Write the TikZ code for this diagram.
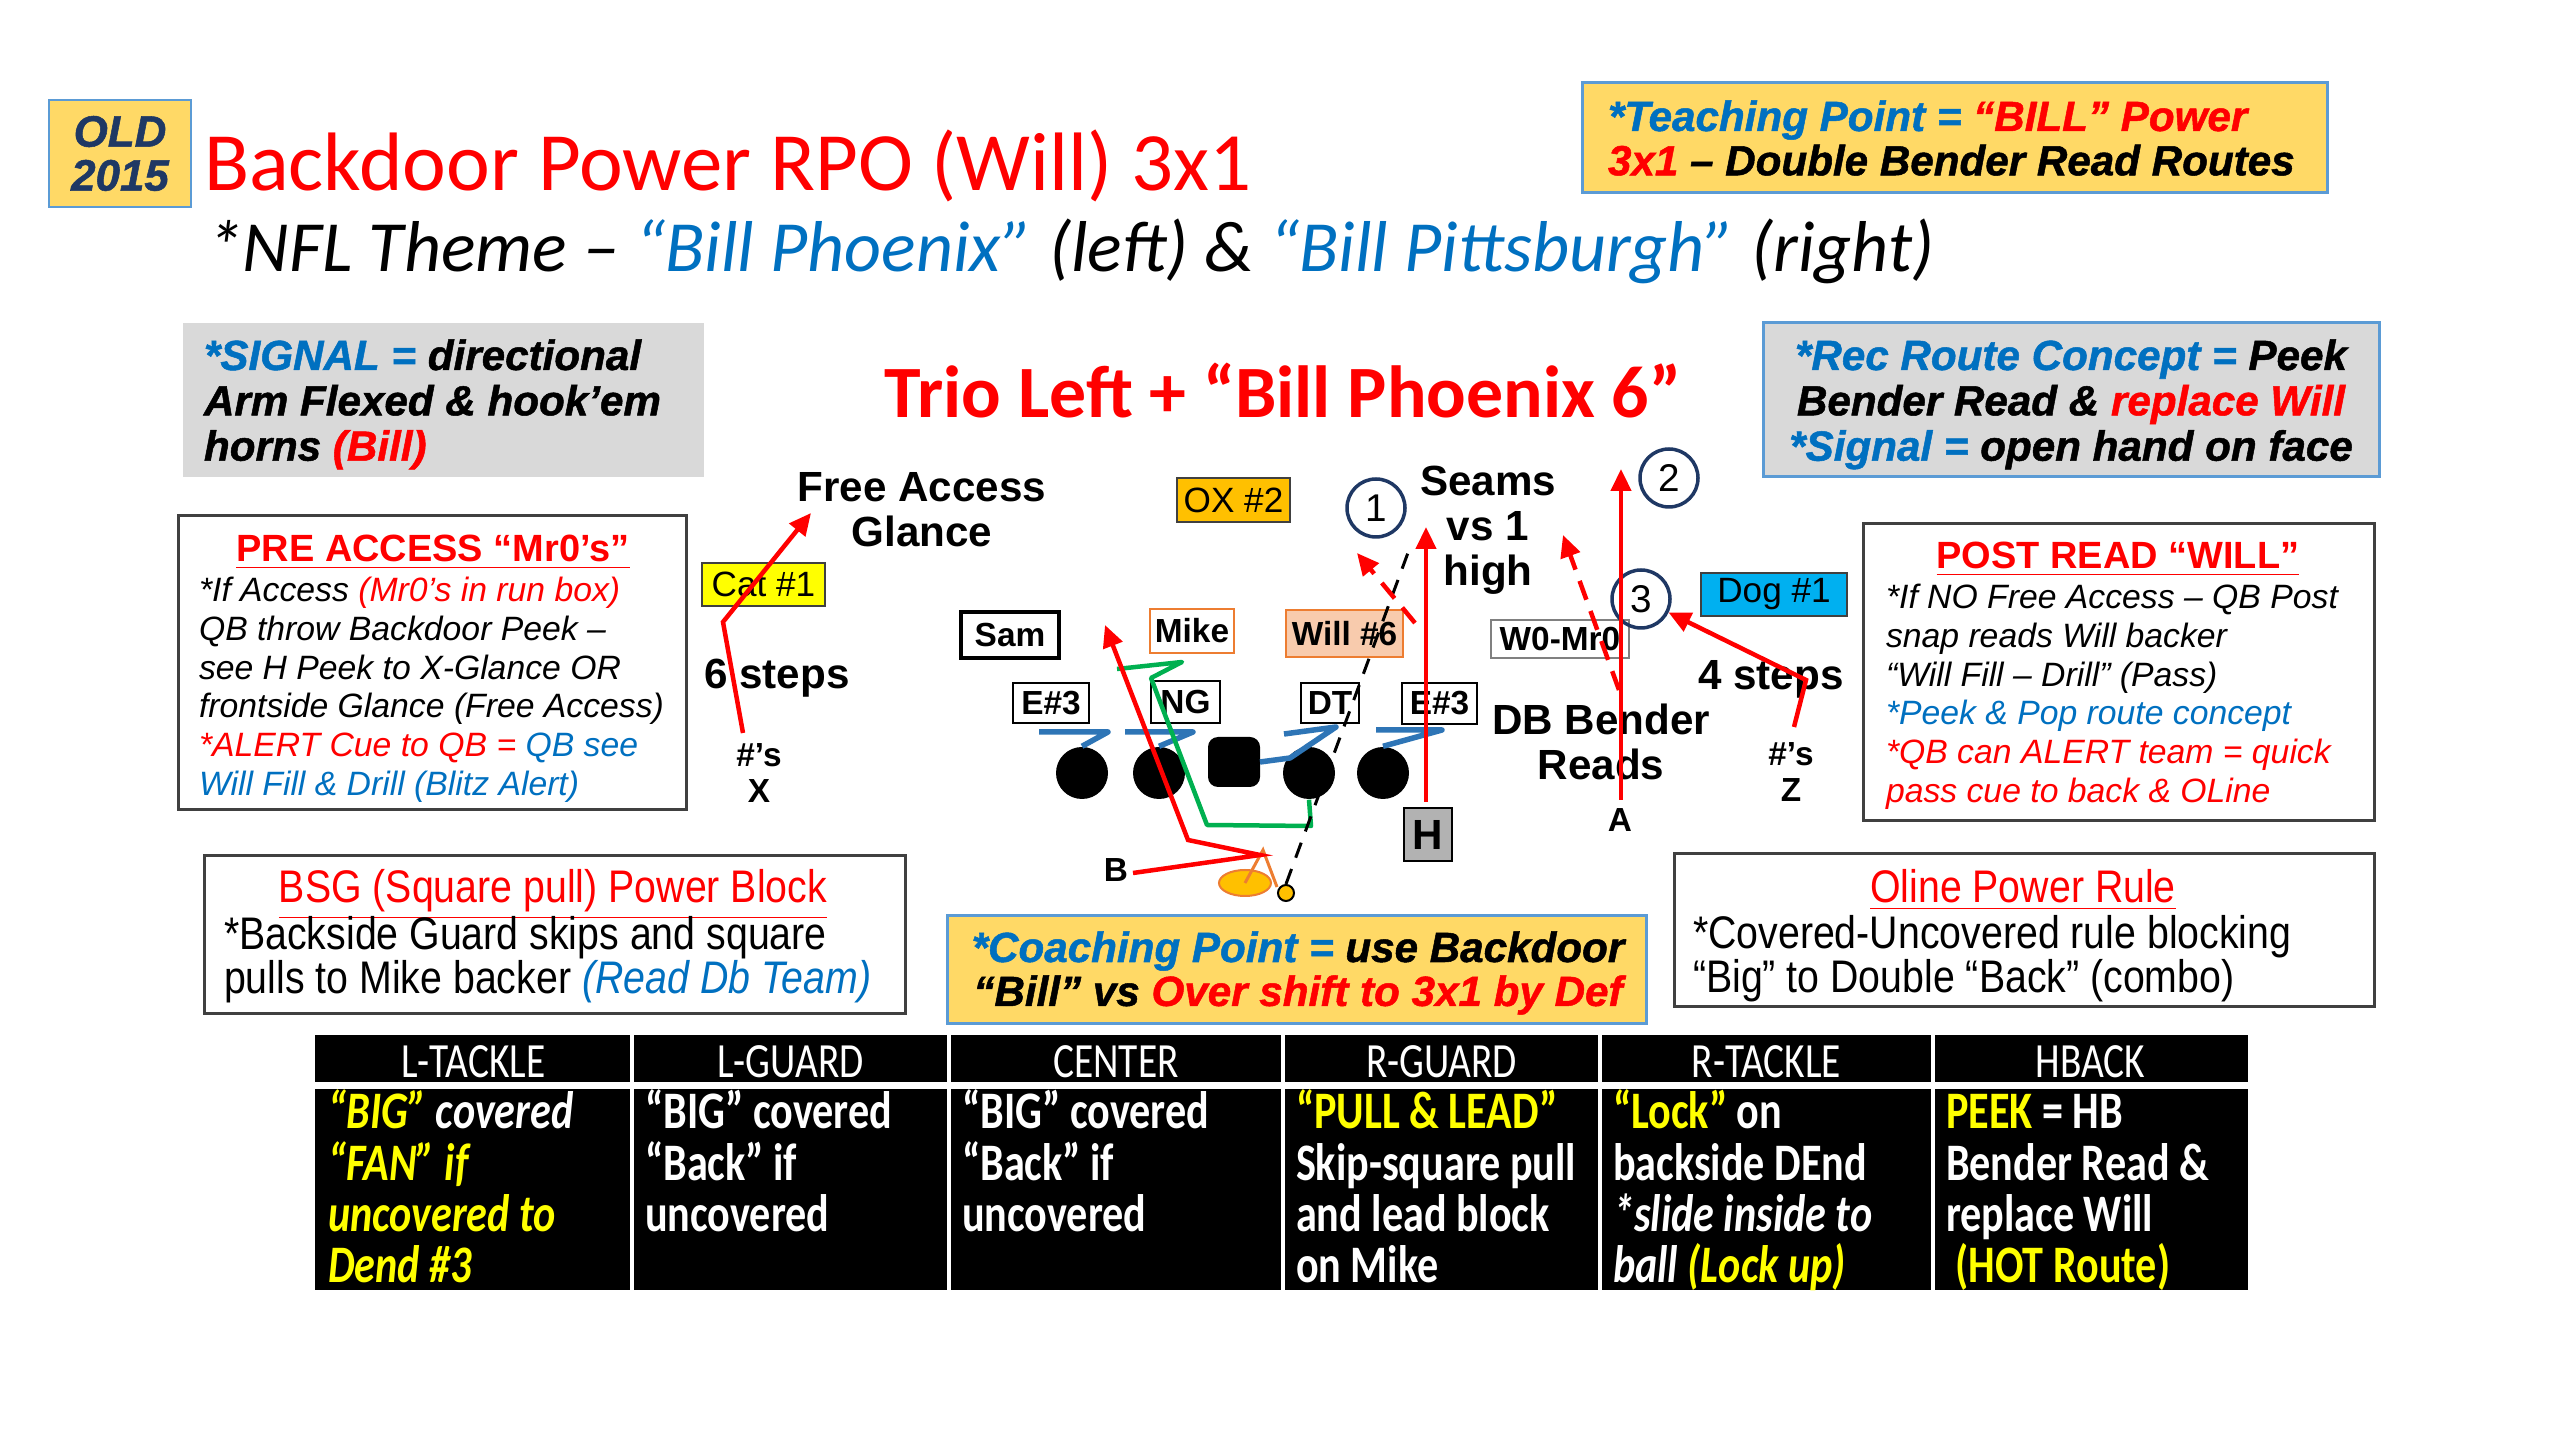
\documentclass[tikz,border=0pt]{standalone}
\usepackage{fontspec}
\setmainfont{Liberation Sans}
\newfontfamily\calf{Carlito}
\newfontfamily\heavyf{Liberation Sans}[FakeBold=1.2]
\newfontfamily\narrowf{Liberation Sans}[FakeStretch=0.86]
\newfontfamily\tabf{Carlito}[FakeStretch=0.80]
\usetikzlibrary{arrows.meta,shapes.geometric}
\definecolor{rd}{HTML}{FF0000}
\definecolor{bl}{HTML}{0070C0}
\definecolor{gold}{HTML}{FFD966}
\definecolor{boxbl}{HTML}{5B9BD5}
\definecolor{gry}{HTML}{D9D9D9}
\definecolor{navyc}{HTML}{1F3864}
\definecolor{oxc}{HTML}{FFC000}
\definecolor{dogc}{HTML}{00B0F0}
\definecolor{orng}{HTML}{ED7D31}
\definecolor{willc}{HTML}{F8CBAD}
\definecolor{grn}{HTML}{00B050}
\definecolor{blkc}{HTML}{2E75B6}
\definecolor{yl}{HTML}{FFFF00}
\definecolor{darkg}{HTML}{404040}
\newcommand\fsz[2]{\fontsize{#1}{#2}\selectfont}
\newcommand\hvy{\heavyf\fsz{12}{12.6}\bfseries\itshape}
\tikzset{
  box/.style={rectangle, inner sep=0pt, outer sep=0pt},
  txt/.style={inner sep=0pt, outer sep=0pt},
  panel/.style={box, draw=darkg, line width=0.3mm, fill=white},
  dbox/.style={box, draw=black, line width=0.25mm, fill=white, font=\fsz{9.5}{11}\bfseries},
  lbl/.style={txt, font=\fsz{12}{12.8}\bfseries, align=center},
  small/.style={txt, font=\fsz{9.5}{10.3}\bfseries, align=center},
  route/.style={draw=rd, line width=0.45mm, -{Triangle[length=2.2mm,width=2mm]}},
  droute/.style={route, dash pattern=on 2mm off 1.2mm},
  blockmk/.style={draw=blkc, line width=0.55mm, line join=round},
  lineman/.style={circle, fill=black, minimum size=5.2mm, inner sep=0pt},
  numc/.style={circle, draw=navyc, line width=0.35mm, minimum size=5.8mm, inner sep=0pt, font=\fsz{11}{12}},
  hdr/.style={txt, anchor=base, text=white, font=\tabf\fsz{14}{15}},
  cell/.style={txt, anchor=base west, text=white},
}
\begin{document}
\begin{tikzpicture}[x=0.1mm,y=-0.1mm]
\useasboundingbox (0,0) rectangle (2560,1440);
\fill[white] (0,0) rectangle (2560,1440);

% ---------- header ----------
\node[box, draw=boxbl, fill=gold, line width=0.2mm, minimum width=14.2mm, minimum height=10.7mm] (oldbox) at (120,153.5) {};
\node[txt, font=\heavyf\fsz{12.5}{12.5}\bfseries\itshape, text=navyc, align=center] (oldtxt) at (120,153.5) {OLD\\2015};
\node[txt, anchor=base west, text=rd, font=\calf\fsz{23.6}{28}] (title) at (204,191) {Backdoor Power RPO (Will) 3x1};
\node[txt, anchor=base west, font=\calf\itshape\fsz{20.5}{24}] (subtitle) at (207,272) {*NFL Theme – \textcolor{bl}{“Bill Phoenix”} (left) \& \textcolor{bl}{“Bill Pittsburgh”} (right)};

\node[box, draw=boxbl, fill=gold, line width=0.3mm, minimum width=74.5mm, minimum height=11mm] (teach) at (1954.5,138) {};
\node[txt, anchor=base west] (teachtxt) at (1608,131) {\parbox[t]{90mm}{\hvy \textcolor{bl}{*Teaching Point =} \textcolor{rd}{“BILL” Power}\\\textcolor{rd}{3x1} – Double Bender Read Routes}};

% ---------- second row ----------
\node[box, fill=gry, minimum width=52.1mm, minimum height=15.4mm] (signal) at (443.5,400) {};
\node[txt, anchor=base west] (signaltxt) at (204,370) {\parbox[t]{70mm}{\hvy\fsz{12}{12.9}\textcolor{bl}{*SIGNAL =} directional\\Arm Flexed \& hook’em\\horns \textcolor{rd}{(Bill)}}};

\node[txt, anchor=base, text=rd, font=\calf\bfseries\fsz{21}{24}] (trio) at (1283,418) {Trio Left + “Bill Phoenix 6”};

\node[box, draw=boxbl, fill=gry, line width=0.3mm, minimum width=61.6mm, minimum height=15.4mm] (rec) at (2071,400) {};
\node[txt, anchor=base] (rectxt) at (2071,370) {\parbox[t]{80mm}{\centering\hvy\fsz{12}{12.9}\textcolor{bl}{*Rec Route Concept =} Peek\\Bender Read \& \textcolor{rd}{replace Will}\\\textcolor{bl}{*Signal =} open hand on face}};

% ---------- side panels ----------
\node[panel, minimum width=50.8mm, minimum height=29.4mm] (pre) at (432,663) {};
\node[txt, anchor=base, text=rd, font=\fsz{10.8}{12}\bfseries] (pretitle) at (433,562) {\underline{PRE ACCESS “Mr0’s”}};
\node[txt, anchor=base west] (pretxt) at (199,602) {\parbox[t]{70mm}{\fsz{9.6}{11}\itshape *If Access \textcolor{rd}{(Mr0’s in run box)}\\QB throw Backdoor Peek –\\see H Peek to X-Glance OR\\frontside Glance (Free Access)\\\textcolor{rd}{*ALERT Cue to QB =} \textcolor{bl}{QB see}\\\textcolor{bl}{Will Fill \& Drill (Blitz Alert)}}};

\node[panel, minimum width=51.1mm, minimum height=29.7mm] (post) at (2118.5,672.5) {};
\node[txt, anchor=base, text=rd, font=\fsz{10.8}{12}\bfseries] (posttitle) at (2118,569) {\underline{POST READ “WILL”}};
\node[txt, anchor=base west] (posttxt) at (1886,609) {\parbox[t]{70mm}{\fsz{9.6}{11}\itshape *If NO Free Access – QB Post\\snap reads Will backer\\“Will Fill – Drill” (Pass)\\\textcolor{bl}{*Peek \& Pop route concept}\\\textcolor{rd}{*QB can ALERT team = quick}\\\textcolor{rd}{pass cue to back \& OLine}}};

% ---------- bottom panels ----------
\node[panel, minimum width=70.1mm, minimum height=15.8mm] (bsg) at (554.5,935) {};
\node[txt, anchor=base, text=rd, font=\narrowf\fsz{13}{14}] (bsgtitle) at (553,903) {\underline{BSG (Square pull) Power Block}};
\node[txt, anchor=base west] (bsgtxt) at (224,950) {\parbox[t]{90mm}{\narrowf\fsz{13}{12.3}*Backside Guard skips and square\\pulls to Mike backer \textcolor{bl}{\itshape (Read Db Team)}}};

\node[box, draw=boxbl, fill=gold, line width=0.3mm, minimum width=69.9mm, minimum height=10.8mm] (coach) at (1296.5,970) {};
\node[txt, anchor=base] (coachtxt) at (1298,962) {\parbox[t]{90mm}{\centering\hvy\fsz{12}{12.5}\textcolor{bl}{*Coaching Point =} use Backdoor\\“Bill” vs \textcolor{rd}{Over shift to 3x1 by Def}}};

\node[panel, minimum width=70mm, minimum height=15.3mm] (oline) at (2024,930.5) {};
\node[txt, anchor=base, text=rd, font=\narrowf\fsz{13}{14}] (olinetitle) at (2023,903) {\underline{Oline Power Rule}};
\node[txt, anchor=base west] (olinetxt) at (1693,949) {\parbox[t]{90mm}{\narrowf\fsz{13}{12.3}*Covered-Uncovered rule blocking\\“Big” to Double “Back” (combo)}};

% ---------- table ----------
\fill[black] (315,1035) rectangle (2248,1290);
\foreach \cx in {632,949,1283,1600,1933} {\draw[white, line width=0.35mm] (\cx,1035) -- (\cx,1290);}
\draw[white, line width=0.7mm] (315,1086) -- (2248,1086);
\node[hdr] (hlt) at (473.5,1077) {L-TACKLE};
\node[hdr] (hlg) at (790.5,1077) {L-GUARD};
\node[hdr] (hc) at (1116,1077) {CENTER};
\node[hdr] (hrg) at (1441.5,1077) {R-GUARD};
\node[hdr] (hrt) at (1766.5,1077) {R-TACKLE};
\node[hdr] (hhb) at (2090.5,1077) {HBACK};
\node[cell] (blt) at (328,1129) {\parbox[t]{40mm}{\tabf\bfseries\itshape\fsz{15}{14.6}\textcolor{yl}{“BIG”} covered\\\textcolor{yl}{“FAN” if}\\\textcolor{yl}{uncovered to}\\\textcolor{yl}{Dend \#3}}};
\node[cell] (blg) at (645,1129) {\parbox[t]{40mm}{\tabf\bfseries\fsz{15}{14.6}“BIG” covered\\“Back” if\\uncovered}};
\node[cell] (bc) at (962,1129) {\parbox[t]{40mm}{\tabf\bfseries\fsz{15}{14.6}“BIG” covered\\“Back” if\\uncovered}};
\node[cell] (brg) at (1296,1129) {\parbox[t]{40mm}{\tabf\bfseries\fsz{15}{14.6}\textcolor{yl}{“PULL \& LEAD”}\\Skip-square pull\\and lead block\\on Mike}};
\node[cell] (brt) at (1613,1129) {\parbox[t]{40mm}{\tabf\bfseries\fsz{15}{14.6}\textcolor{yl}{“Lock”} on\\backside DEnd\\\itshape *slide inside to\\ball \textcolor{yl}{(Lock up)}}};
\node[cell] (bhb) at (1946,1129) {\parbox[t]{40mm}{\tabf\bfseries\fsz{15}{14.6}\textcolor{yl}{PEEK} = HB\\Bender Read \&\\replace Will\\\textcolor{yl}{~(HOT Route)}}};

% ---------- diagram: labels ----------
\node[lbl] (freeacc) at (922,510) {Free Access\\Glance};
\node[lbl] (seams) at (1488,530) {Seams\\vs 1\\high};
\node[lbl] (sixsteps) at (777,678) {6 steps};
\node[lbl] (fourstep) at (1771,679) {4 steps};
\node[lbl] (dbbend) at (1601,742) {DB Bender\\Reads};
\node[small] (xlab) at (759,773) {\#’s\\X};
\node[small] (zlab) at (1791,772) {\#’s\\Z};
\node[small] (alab) at (1620,820) {A};
\node[small] (blab) at (1116,870) {B};

\node[dbox, fill=yl, draw=darkg, minimum width=12.3mm, minimum height=4.3mm, font=\fsz{10}{11}] (cat) at (763.5,584.5) {Cat \#1};
\node[dbox, fill=oxc, draw=darkg, minimum width=11.3mm, minimum height=4.4mm, font=\fsz{10}{11}] (ox) at (1233.5,500) {OX \#2};
\node[dbox, line width=0.45mm, minimum width=9.8mm, minimum height=4.6mm] (sam) at (1010,635) {Sam};
\node[dbox, draw=orng, minimum width=8.4mm, minimum height=4.4mm] (mike) at (1192,631) {Mike};
\node[dbox, draw=orng, fill=willc, minimum width=11.7mm, minimum height=4.7mm] (will) at (1344.5,633.5) {Will \#6};
\node[dbox, draw=gray, minimum width=13.8mm, minimum height=3.8mm] (wzero) at (1560,639) {W0-Mr0};
\node[dbox, minimum width=7.6mm, minimum height=4mm] (eleft) at (1051,703) {E\#3};
\node[dbox, minimum width=6.9mm, minimum height=4.2mm] (ng) at (1185.5,702) {NG};
\node[dbox, minimum width=5.8mm, minimum height=4mm] (dt) at (1330,703) {DT};
\node[dbox, minimum width=7.5mm, minimum height=4.1mm] (eright) at (1439.5,703.5) {E\#3};
\node[dbox, fill=gray!60, minimum width=4.8mm, minimum height=5.3mm, font=\fsz{12}{13}\bfseries] (hb) at (1428,834.5) {H};
\node[dbox, fill=dogc, draw=darkg, minimum width=14.6mm, minimum height=4.3mm, font=\fsz{10}{11}] (dog) at (1774,594.5) {Dog \#1};

\node[numc] (c1) at (1376,508) {1};
\node[numc] (c2) at (1669,478) {2};
\node[numc] (c3) at (1641,599) {3};

% offensive line
\node[lineman] (lt) at (1082,773) {};
\node[lineman] (lg) at (1159,773) {};
\node[box, fill=black, rounded corners=1mm, minimum width=5.2mm, minimum height=5mm] (ctr) at (1234,762) {};
\node[lineman] (rg) at (1309,773) {};
\node[lineman] (rt) at (1383,773) {};
\node[ellipse, fill=oxc, draw=orng, line width=0.2mm, minimum width=5.2mm, minimum height=2.6mm, inner sep=0pt] (qb) at (1245,883) {};
\node[circle, fill=oxc, draw=black, line width=0.2mm, minimum size=1.6mm, inner sep=0pt] (ball) at (1286,893) {};

% blocking marks
\draw[blockmk] (1039,732) -- (1108,732) -- (lt.north);
\draw[blockmk] (1125,732) -- (1193,732) -- (lg.north);
\draw[blockmk] (ctr.east) -- (1290,758) -- (1336,727) -- (1284,734);
\draw[blockmk] (1376,730) -- (1442,730) -- (rt.north);

% green pull
\draw[grn, line width=0.45mm, line join=round] (rg.south) -- (1311,826) -- (1207,825) -- (1151,678) -- (1182,662) -- (1117,669);

% QB markings
\draw[orng, line width=0.3mm] (qb.center) -- (1263,850) -- (1277,887);
\coordinate (dashtop) at (1409,550);
\draw[black, line width=0.3mm, dash pattern=on 1.6mm off 1.2mm] (ball.north) -- (dashtop);

% routes
\coordinate (xs) at (743,733);
\coordinate (xe) at (811,513);
\draw[route] (xs) -- (723,622) -- (xe);
\coordinate (bs) at (1133,873);
\coordinate (be) at (1105,625);
\draw[route, line join=miter] (bs) -- (1260,855) -- (1188,840) -- (be);
\coordinate (he) at (1426,527);
\draw[route] (1426,802) -- (he);
\coordinate (wd) at (1357,553);
\draw[droute] (1415,623) -- (wd);
\coordinate (as) at (1621,800);
\coordinate (ae) at (1621,469);
\draw[route] (as) -- (ae);
\coordinate (wzd) at (1563,535);
\draw[droute] (1619,690) -- (wzd);
\coordinate (zs) at (1794,727);
\draw[route] (zs) -- (1806,680) -- (c3);
\end{tikzpicture}
\end{document}
